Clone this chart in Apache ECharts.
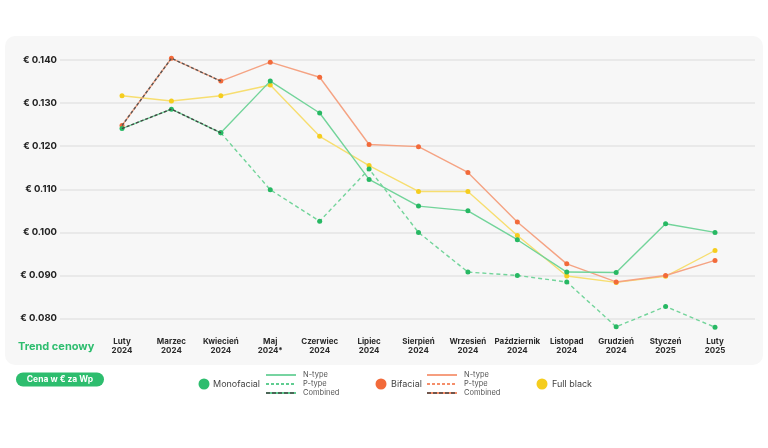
<!DOCTYPE html>
<html>
<head>
<meta charset="utf-8">
<script src="https://cdn.jsdelivr.net/npm/echarts@6/dist/echarts.min.js"></script>
<style>
html,body{margin:0;padding:0;background:#ffffff;}
#c{width:768px;height:448px;}
</style>
</head>
<body>
<div id="c"></div>
<script>
const categories = ['Luty\n2024','Marzec\n2024','Kwiecień\n2024','Maj\n2024*','Czerwiec\n2024','Lipiec\n2024','Sierpień\n2024','Wrzesień\n2024','Październik\n2024','Listopad\n2024','Grudzień\n2024','Styczeń\n2025','Luty\n2025'];
const monoNType   = [0.1241,0.1286,0.1231,0.1351,0.1277,0.1123,0.1061,0.1050,0.0983,0.0908,0.0907,0.1020,0.1000];
const monoPType   = [null,null,0.1231,0.1099,0.1026,0.1147,0.1000,0.0908,0.0900,0.0885,0.0781,0.0828,0.0780];
const monoCombined= [0.1241,0.1286,0.1231,null,null,null,null,null,null,null,null,null,null];
const biNType     = [0.1248,0.1404,0.1351,0.1395,0.1360,0.1204,0.1199,0.1139,0.1024,0.0927,0.0885,0.0900,0.0935];
const biCombined  = [0.1248,0.1404,0.1351,null,null,null,null,null,null,null,null,null,null];
const fullBlack   = [0.1317,0.1305,0.1317,0.1342,0.1223,0.1155,0.1095,0.1095,0.0993,0.0899,0.0884,0.0898,0.0958];
const yMin = 0.08, yMax = 0.14, yStep = 0.01;

const GREEN='#27b863', GREEN_L='#72d49a';
const ORANGE='#f26a3a', ORANGE_L='#f5a383';
const YELLOW='#f5cd1e', YELLOW_L='#f7de70';
const FONT='Inter';

const chart = echarts.init(document.getElementById('c'));
const gridTop = 60, gridBottom = 448 - 318.6;

function lineSeries(name, data, color, lineColor, type, showSym, z){
  return {
    name, type:'line', xAxisIndex:1, yAxisIndex:1, data, clip:false,
    symbol: showSym ? 'circle' : 'none', symbolSize:5,
    itemStyle:{color:color},
    lineStyle:{color:lineColor, width:1.4, type:type},
    connectNulls:false, z:z, silent:true, animation:false
  };
}

const legendTextStyle = {fontFamily:FONT, fontSize:9, fill:'#444'};
const smallText = {fontFamily:FONT, fontSize:7.5, fill:'#555'};

function legendLines(x, color){
  return [
    {type:'line', shape:{x1:x, y1:375, x2:x+30, y2:375}, style:{stroke:color, lineWidth:1.3}},
    {type:'line', shape:{x1:x, y1:384, x2:x+30, y2:384}, style:{stroke:color, lineWidth:1.3, lineDash:[3,2]}},
    {type:'line', shape:{x1:x, y1:393, x2:x+30, y2:393}, style:{stroke:color, lineWidth:1.5}},
    {type:'line', shape:{x1:x, y1:393, x2:x+30, y2:393}, style:{stroke:'#444', lineWidth:1.5, lineDash:[4,2]}},
    {type:'text', x:x+37, y:375, style:Object.assign({text:'N-type', verticalAlign:'middle'}, smallText)},
    {type:'text', x:x+37, y:384, style:Object.assign({text:'P-type', verticalAlign:'middle'}, smallText)},
    {type:'text', x:x+37, y:393, style:Object.assign({text:'Combined', verticalAlign:'middle'}, smallText)}
  ];
}

const option = {
  animation:false,
  grid:[
    {left:60, right:13, top:gridTop, bottom:gridBottom},
    {left:122, right:53, top:gridTop, bottom:gridBottom}
  ],
  xAxis:[
    {type:'category', gridIndex:0, data:categories, show:false},
    {type:'category', gridIndex:1, data:categories, boundaryGap:false,
     axisLine:{show:false}, axisTick:{show:false}, splitLine:{show:false},
     axisLabel:{fontFamily:FONT, fontSize:8, fontWeight:'bold', color:'#2a2a2a', margin:18, lineHeight:9, interval:0}}
  ],
  yAxis:[
    {type:'value', gridIndex:0, min:yMin, max:yMax, interval:yStep,
     axisLine:{show:false}, axisTick:{show:false},
     splitLine:{lineStyle:{color:'#e4e4e4', width:1.5}},
     axisLabel:{fontFamily:FONT, fontSize:9.5, fontWeight:'bold', color:'#222', margin:3,
       formatter:v=>'€ '+v.toFixed(3)}},
    {type:'value', gridIndex:1, min:yMin, max:yMax, interval:yStep, show:false, splitLine:{show:false}}
  ],
  graphic:[
    {type:'rect', z:-100, shape:{x:5, y:36, width:758, height:329, r:10}, style:{fill:'#f7f7f7'}},
    {type:'text', x:18, y:347, style:{text:'Trend cenowy', fontFamily:FONT, fontSize:11, fontWeight:'bold', fill:'#2dbd6e', verticalAlign:'middle'}},
    {type:'rect', shape:{x:16, y:372.5, width:88, height:14, r:7}, style:{fill:'#2dbd6e'}},
    {type:'text', x:60, y:379.5, style:{text:'Cena w € za Wp', fontFamily:FONT, fontSize:8.5, fontWeight:'bold', fill:'#fff', align:'center', verticalAlign:'middle'}},
    {type:'circle', shape:{cx:204, cy:384, r:5.5}, style:{fill:'#2dbd6e'}},
    {type:'text', x:213, y:384, style:Object.assign({text:'Monofacial', verticalAlign:'middle'}, legendTextStyle)},
    ...legendLines(266, '#2dbd6e'),
    {type:'circle', shape:{cx:381, cy:384, r:5.5}, style:{fill:ORANGE}},
    {type:'text', x:391, y:384, style:Object.assign({text:'Bifacial', verticalAlign:'middle'}, legendTextStyle)},
    ...legendLines(427, ORANGE),
    {type:'circle', shape:{cx:542, cy:384, r:5.5}, style:{fill:YELLOW}},
    {type:'text', x:552, y:384, style:Object.assign({text:'Full black', verticalAlign:'middle'}, legendTextStyle)}
  ],
  series:[
    lineSeries('Full black', fullBlack, YELLOW, YELLOW_L, 'solid', true, 3),
    lineSeries('Bifacial N-type', biNType, ORANGE, ORANGE_L, 'solid', true, 4),
    lineSeries('Monofacial P-type', monoPType, GREEN, GREEN_L, [4,3], true, 5),
    lineSeries('Monofacial N-type', monoNType, GREEN, GREEN_L, 'solid', true, 6),
    lineSeries('Bifacial Combined', biCombined, ORANGE, '#555555', [3,2], false, 7),
    lineSeries('Monofacial Combined', monoCombined, GREEN, '#444444', [3,2], false, 7)
  ]
};
chart.setOption(option);
</script>
</body>
</html>
